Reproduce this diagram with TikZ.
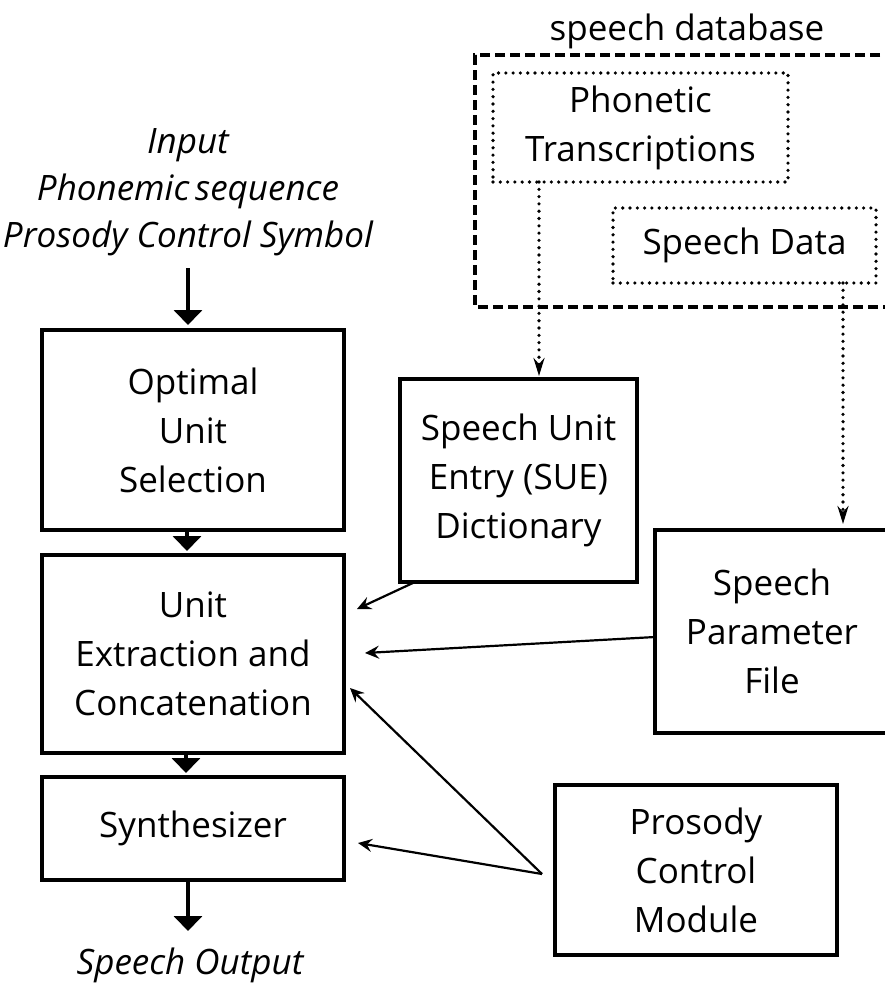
\documentclass[tikz,border=0pt]{standalone}
\usepackage{fontspec}
\setmainfont{Open Sans}
\usetikzlibrary{arrows.meta,calc}
\begin{document}
\begin{tikzpicture}[x=1pt,y=-1pt,
  every node/.style={font=\fontsize{35}{49}\selectfont, align=center, inner sep=0pt, outer sep=0pt},
  blk/.style={draw, line width=4pt, rectangle},
  dotbox/.style={draw, line width=3.6pt, dash pattern=on 0pt off 7.3pt, line cap=round, rectangle},
  dotarrow/.style={line width=3.6pt, dash pattern=on 0pt off 7.3pt, line cap=round, -{Stealth[length=18pt,width=11pt,inset=6pt]}},
  dashbox/.style={draw, line width=3.4pt, dash pattern=on 10pt off 5pt},
  fatarrow/.style={line width=4.5pt, -{Triangle[length=15pt,width=28pt]}},
  thinarrow/.style={line width=2.2pt, -{Stealth[length=14pt,width=13pt,inset=5pt]}},
  lbl/.style={font=\fontsize{35}{47}\selectfont\itshape}
]
\useasboundingbox (0,0) rectangle (885,986);
\fill[white] (0,0) rectangle (885,986);

% speech database
\draw[dashbox] (895,55) -- (475,55) -- (475,307) -- (895,307);
\node (dbl) at (687,31) {speech database};
\node[dotbox, minimum width=295pt, minimum height=109pt] (pt) at (640.5,127.5) {Phonetic\\Transcriptions};
\node[dotbox, minimum width=263pt, minimum height=75pt] (sd) at (744.5,245.5) {Speech Data};

% input label
\node[lbl] (inp) at (188,192) {Input\\Phonemic\,sequence\\Prosody Control Symbol};

% main chain
\node[blk, minimum width=302pt, minimum height=200pt] (ous) at (193,430) {Optimal\\Unit\\Selection};
\node[blk, minimum width=302pt, minimum height=198pt] (uec) at (193,654) {Unit\\Extraction and\\Concatenation};
\node[blk, minimum width=302pt, minimum height=103pt] (syn) at (193,828.5) {Synthesizer};
\node[lbl] (out) at (190,965) {Speech Output};

% right side boxes
\node[blk, minimum width=237pt, minimum height=203pt] (sue) at (518.5,480.5) {Speech Unit\\Entry (SUE)\\Dictionary};
\node[blk, minimum width=234pt, minimum height=203pt] (spf) at (772,631.5) {Speech\\Parameter\\File};
\node[blk, minimum width=282pt, minimum height=170pt] (pcm) at (696,870) {Prosody\\Control\\Module};

% fat arrows
\coordinate (ia) at (188,268);
\draw[fatarrow, shorten >=5pt] (ia) -- (ia |- ous.north);
\draw[fatarrow, shorten >=4pt] ($(ous.south)+(-6,2)$) coordinate (oa) -- (oa |- uec.north);
\draw[fatarrow, shorten >=4pt] ($(uec.south)+(-7,2)$) coordinate (ua) -- (ua |- syn.north);
\coordinate (oe) at (188,931);
\draw[fatarrow] ($(syn.south)+(-5,2)$) coordinate (sa) -- (sa |- oe);

% dotted arrows
\draw[dotarrow, shorten >=3pt] ($(pt.south west)+(46,0)$) coordinate (d1) -- (d1 |- sue.north);
\draw[dotarrow, shorten >=6pt] ($(sd.south west)+(230,0)$) coordinate (d2) -- (d2 |- spf.north);

% thin arrows
\coordinate (t1) at (357,609);
\coordinate (t2) at (365,653);
\coordinate (t3) at (350,688);
\coordinate (t4) at (358,843);
\coordinate (src) at (542,874);
\draw[thinarrow] ($(sue.south west)+(15,0)$) -- (t1);
\draw[thinarrow] ($(spf.west)+(0,5.5)$) -- (t2);
\draw[thinarrow] (src) -- (t3);
\draw[thinarrow] (src) -- (t4);
\end{tikzpicture}
\end{document}
